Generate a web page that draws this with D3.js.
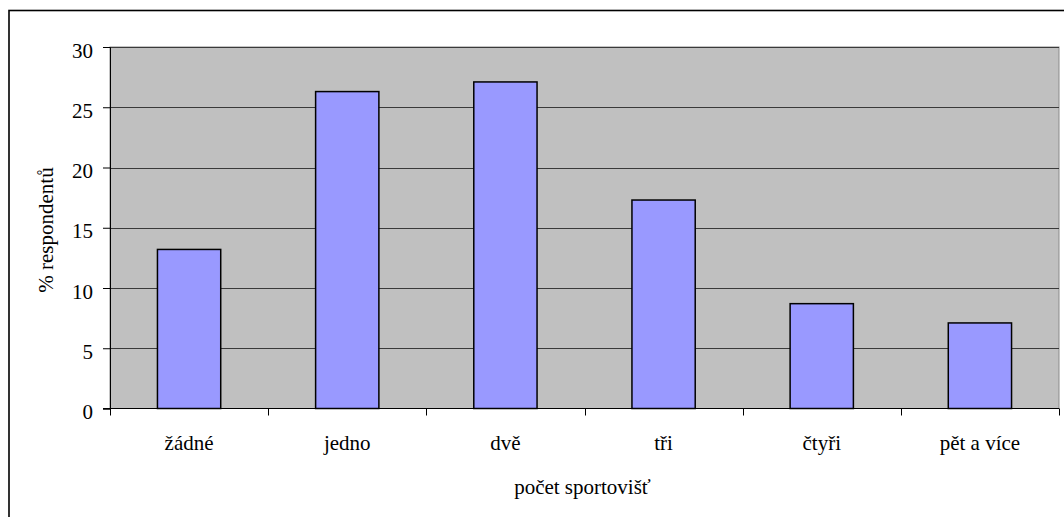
<!DOCTYPE html>
<html>
<head>
<meta charset="utf-8">
<script src="https://cdn.jsdelivr.net/npm/d3@7"></script>
<style>
  html, body { margin: 0; padding: 0; background: #fff; }
  svg { display: block; }
</style>
</head>
<body>
<svg id="chart" width="1064" height="517"></svg>
<script>
// Počet sportovišť v okolí – podíl respondentů (%)
const categories = ["žádné", "jedno", "dvě", "tři", "čtyři", "pět a více"];
const values = [13.2, 26.3, 27.1, 17.3, 8.7, 7.1];
const yTicks = [0, 5, 10, 15, 20, 25, 30];
const xTitle = "počet sportovišť";
const yTitle = "% respondentů";

const FONT = "'Liberation Serif', 'Times New Roman', serif";
const svg = d3.select("#chart");
const plot = { left: 110, right: 1059, top: 47, bottom: 408.5 };

function styleText(sel) {
  return sel.style("font-family", FONT).style("font-size", "21px").style("fill", "#000");
}

// outer frame of the chart area
svg.append("rect")
  .attr("x", 9).attr("y", 10.5)
  .attr("width", 1080).attr("height", 530)
  .attr("fill", "#fff").attr("stroke", "#000").attr("stroke-width", 1.6);

const x = d3.scaleBand()
  .domain(categories)
  .range([plot.left, plot.right])
  .paddingInner(0.6).paddingOuter(0.3);

const xBand = d3.scaleBand()
  .domain(categories)
  .range([plot.left, plot.right]);

const y = d3.scaleLinear().domain([0, 30]).range([plot.bottom, plot.top]);

// plot background
svg.append("rect")
  .attr("x", plot.left).attr("y", plot.top)
  .attr("width", plot.right - plot.left).attr("height", plot.bottom - plot.top)
  .attr("fill", "#c0c0c0").attr("stroke", "#8a8a8a").attr("stroke-width", 1);

// horizontal gridlines
svg.append("g")
  .selectAll("line")
  .data(yTicks.filter(d => d > 0))
  .join("line")
  .attr("x1", plot.left).attr("x2", plot.right)
  .attr("y1", d => Math.round(y(d)) + 0.5).attr("y2", d => Math.round(y(d)) + 0.5)
  .attr("stroke", "#3a3a3a").attr("stroke-width", 1);

// bars
svg.append("g")
  .selectAll("rect")
  .data(values)
  .join("rect")
  .attr("x", (d, i) => x(categories[i]))
  .attr("y", d => y(d))
  .attr("width", x.bandwidth())
  .attr("height", d => y(0) - y(d))
  .attr("fill", "#9999ff").attr("stroke", "#000").attr("stroke-width", 1.5);

// y axis
const yAxis = d3.axisLeft(y).tickValues(yTicks).tickSize(7).tickPadding(10).tickFormat(d3.format("d"));
const gy = svg.append("g").attr("transform", `translate(${plot.left},0)`).call(yAxis);
gy.select(".domain").attr("stroke", "#000");
gy.selectAll(".tick line").attr("stroke", "#000");
styleText(gy.selectAll(".tick text")).attr("dy", "0.48em");

// x axis: ticks at category boundaries
const gx = svg.append("g").attr("transform", `translate(0,${plot.bottom})`);
gx.append("line")
  .attr("x1", plot.left - 7).attr("x2", plot.right)
  .attr("y1", 0).attr("y2", 0).attr("stroke", "#000");
const bounds = categories.map(c => xBand(c)).concat([plot.right]);
gx.selectAll("line.tk")
  .data(bounds)
  .join("line").attr("class", "tk")
  .attr("x1", d => Math.round(d) + 0.5).attr("x2", d => Math.round(d) + 0.5)
  .attr("y1", 0).attr("y2", 7).attr("stroke", "#000");
styleText(gx.selectAll("text")
  .data(categories)
  .join("text")
  .attr("x", d => xBand(d) + xBand.bandwidth() / 2)
  .attr("y", 41.5)
  .attr("text-anchor", "middle")
  .text(d => d));

// axis titles
styleText(svg.append("text")
  .attr("x", (plot.left + plot.right) / 2 - 2).attr("y", 494)
  .attr("text-anchor", "middle")
  .text(xTitle));

styleText(svg.append("text")
  .attr("transform", `translate(53,230) rotate(-90)`)
  .attr("text-anchor", "middle")
  .text(yTitle));
</script>
</body>
</html>
